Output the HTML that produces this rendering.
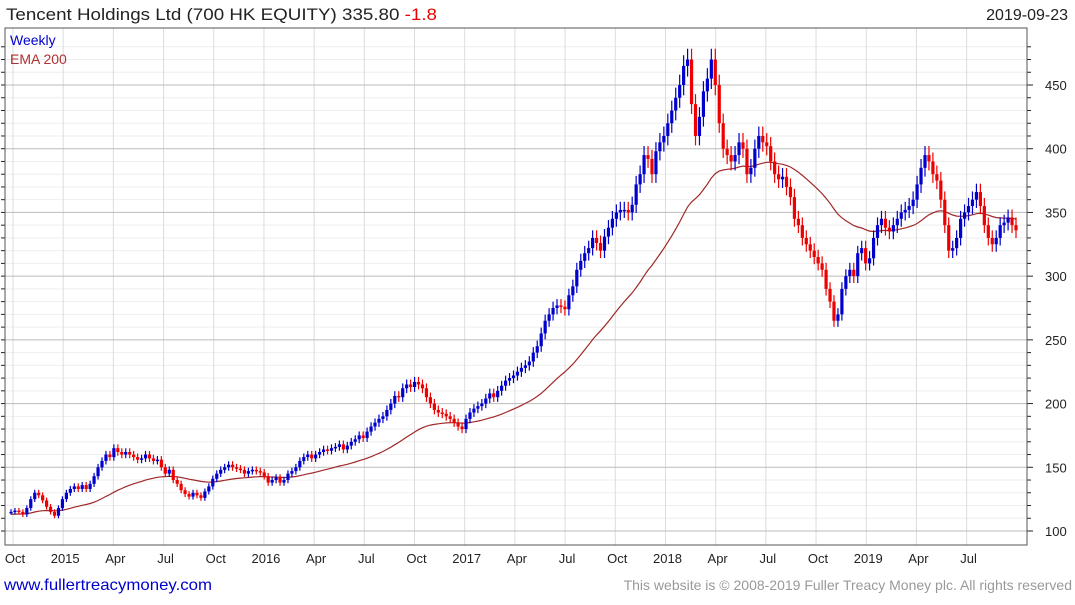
<!DOCTYPE html>
<html><head><meta charset="utf-8"><style>
body{margin:0;background:#fff;font-family:"Liberation Sans",sans-serif}
svg text{font-family:"Liberation Sans",sans-serif}
</style></head><body>
<svg id="c" width="1075" height="600" xmlns="http://www.w3.org/2000/svg">
<text x="6" y="20" font-size="17" fill="#222" textLength="431" lengthAdjust="spacingAndGlyphs">Tencent Holdings Ltd (700 HK EQUITY) 335.80 <tspan fill="#e00">-1.8</tspan></text>
<text x="1068" y="20" font-size="16" fill="#222" text-anchor="end">2019-09-23</text>
<g id="grid"></g><g id="ema"></g><g id="candles"></g><g id="axes"></g>
<text x="10" y="45" font-size="14" fill="#0000cc">Weekly</text>
<text x="10" y="64" font-size="14" fill="#b03030">EMA 200</text>
<text x="4" y="590" font-size="16" fill="#0000cc" textLength="208" lengthAdjust="spacingAndGlyphs">www.fullertreacymoney.com</text>
<text x="1072" y="590" font-size="14" fill="#999" text-anchor="end">This website is © 2008-2019 Fuller Treacy Money plc. All rights reserved</text>
</svg>
<script>
const closes=[115,116,115,113,118,125,130,128,124,119,115,112,118,125,130,133,135,133,136,133,137,143,150,155,160,158,165,162,160,162,160,158,156,157,160,157,155,156,150,145,148,140,137,132,129,127,130,128,126,131,135,141,145,148,150,152,150,149,148,145,147,148,147,146,143,138,140,142,138,140,145,147,150,155,158,160,157,160,162,164,163,165,166,168,164,167,170,172,175,173,178,182,185,188,190,195,200,206,205,212,215,213,217,215,212,205,200,195,193,192,190,188,185,182,180,188,193,196,198,200,204,208,205,210,214,218,220,222,225,228,230,233,240,245,255,265,270,275,277,276,274,285,292,305,312,318,322,330,326,320,331,338,345,350,352,352,350,356,372,380,395,392,380,398,405,410,420,430,440,450,465,470,435,410,425,445,455,470,450,420,400,395,390,395,405,400,380,385,400,410,405,402,390,380,376,378,370,362,345,340,330,325,320,315,310,305,290,280,265,270,290,300,305,300,318,322,310,314,330,340,345,338,335,340,345,350,352,355,360,372,385,395,390,380,375,360,340,320,322,330,345,350,355,360,366,355,340,330,325,330,340,342,346,340,336];
const yTicks=[100,150,200,250,300,350,400,450];
const xLabels=["Oct","2015","Apr","Jul","Oct","2016","Apr","Jul","Oct","2017","Apr","Jul","Oct","2018","Apr","Jul","Oct","2019","Apr","Jul"];
const xLabelMonths=[0,3,6,9,12,15,18,21,24,27,30,33,36,39,42,45,48,51,54,57];
const emaSeed=113;
const NS="http://www.w3.org/2000/svg";
const L=5,R=1027,T=28,B=545;
const y=v=>531-(v-100)*(446/350);
const xm=m=>13+m*16.73;
const xw=i=>11+i*(1005/(closes.length-1));
function mk(tag,attrs,parent){const e=document.createElementNS(NS,tag);for(const k in attrs)e.setAttribute(k,attrs[k]);parent.appendChild(e);return e;}
const grid=document.getElementById('grid'),ax=document.getElementById('axes');
for(let v=100;v<=480;v+=10){if(v%50===0)continue;const g=mk('line',{x1:L,x2:R,y1:y(v),y2:y(v),stroke:'#eeeeee','stroke-width':1},grid);}
xLabelMonths.forEach(m=>{const v=mk('line',{x1:xm(m),x2:xm(m),y1:T,y2:B,stroke:'#dcdcdc','stroke-width':1},grid);});
yTicks.forEach(t=>{const g=mk('line',{x1:L,x2:R,y1:y(t),y2:y(t),stroke:'#bbb','stroke-width':1},grid);
const tx=mk('text',{x:1045,y:y(t)+5,'font-size':13,fill:'#222'},ax);tx.textContent=t;});
for(let v=100;v<=480;v+=10){const tk=mk('line',{x1:R,x2:R+(v%50===0?6:4),y1:y(v),y2:y(v),stroke:'#222'},ax);
const tl=mk('line',{x1:L-4,x2:L,y1:y(v),y2:y(v),stroke:'#222'},ax);}
xLabels.forEach((lb,i)=>{const tx=mk('text',{x:xm(xLabelMonths[i])+2,y:563,'font-size':13,fill:'#222','text-anchor':'middle'},ax);tx.textContent=lb;});
const frame=mk('rect',{x:L,y:T,width:R-L,height:B-T,fill:'none',stroke:'#555','stroke-width':1},ax);

let e=emaSeed,pts=[];const a=2/41;
closes.forEach((c,i)=>{e=e+a*(c-e);pts.push(xw(i).toFixed(1)+','+y(e).toFixed(1));});
const el=mk('polyline',{points:pts.join(' '),fill:'none',stroke:'#a02828','stroke-width':1.2},document.getElementById('ema'));

const cg=document.getElementById('candles');
closes.forEach((c,i)=>{const o=i?closes[i-1]:c;const hi=Math.max(o,c)*1.018,lo=Math.min(o,c)*0.982;const col=c>=o?'#0000cc':'#ee0000';const x=xw(i);
const w=mk('line',{x1:x,x2:x,y1:y(hi),y2:y(lo),stroke:col,'stroke-width':1.2},cg);
const top=y(Math.max(o,c)),h=Math.max(1.5,Math.abs(y(o)-y(c)));
const b=mk('rect',{x:x-1.6,y:top,width:3.2,height:h,fill:col},cg);});
</script>
</body></html>
